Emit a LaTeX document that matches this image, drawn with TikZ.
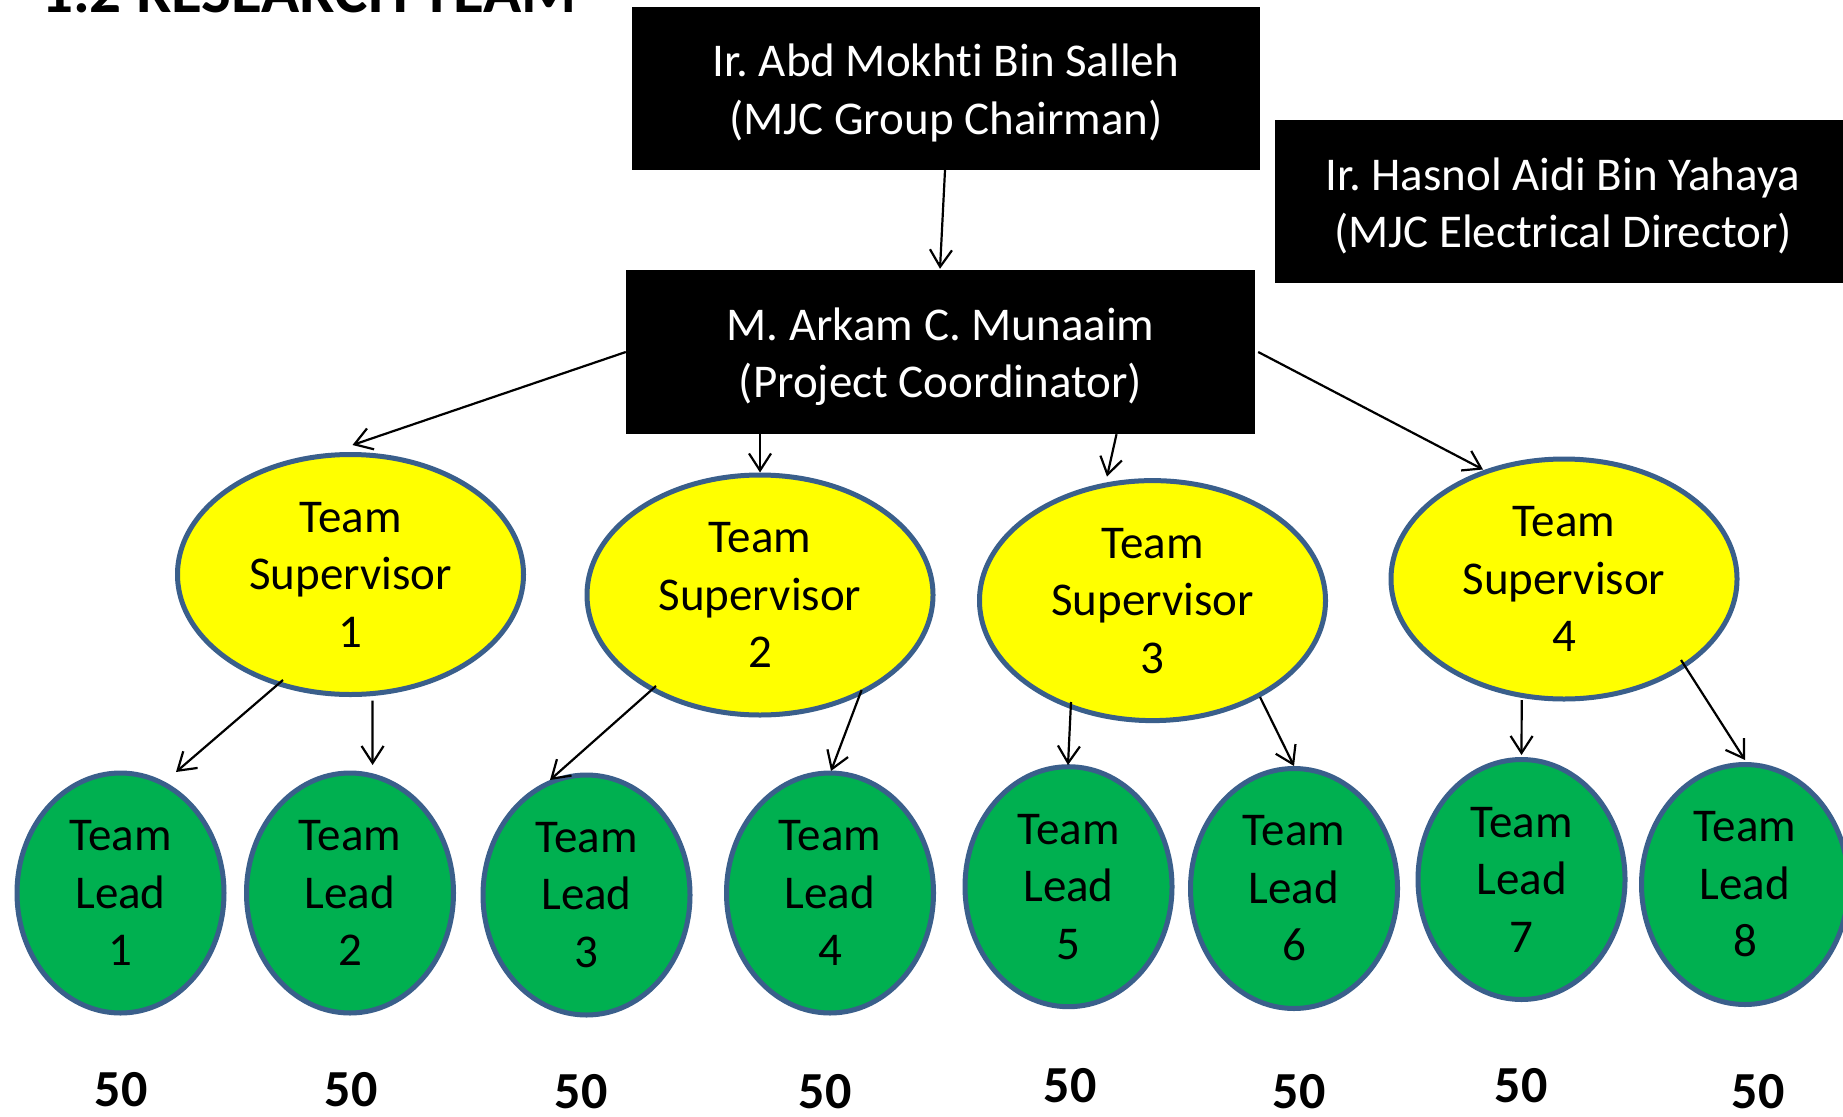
\documentclass[tikz,border=0pt]{standalone}
\usepackage{fontspec}
\setmainfont{Carlito}[Ligatures=NoCommon]
\frenchspacing
\usetikzlibrary{arrows.meta,shapes.geometric,calc}
\definecolor{edgeblue}{HTML}{3A5F8B}
\definecolor{supyellow}{HTML}{FFFF00}
\definecolor{leadgreen}{HTML}{00B050}
\begin{document}
\begin{tikzpicture}[x=1pt,y=-1pt,
  blackbox/.style={rectangle, fill=black, inner sep=0pt},
  boxtxt/.style={text=white, align=center, inner sep=0pt,
    font=\fontsize{47}{57.5}\selectfont},
  sup/.style={ellipse, draw=edgeblue, line width=5pt, fill=supyellow, align=center,
    inner sep=0pt, minimum width=346pt, minimum height=240pt,
    font=\fontsize{47}{57.5}\selectfont},
  lead/.style={ellipse, draw=edgeblue, line width=5pt, fill=leadgreen, align=center,
    inner sep=0pt, minimum width=207pt, minimum height=240pt,
    font=\fontsize{47}{57.5}\selectfont},
  num/.style={inner sep=0pt, font=\fontsize{52}{60}\selectfont\bfseries},
  arr/.style={-{Straight Barb[length=17pt,width=22pt]}, line width=2.2pt}]
\useasboundingbox (0,0) rectangle (1843,1116);
\fill[white] (0,0) rectangle (1843,1116);

% title (cut off at top)
\node[anchor=base west, inner sep=0pt, font=\fontsize{63}{70}\selectfont\bfseries] (title) at (41,13) {1.2 RESEARCH TEAM};

% boxes
\node[blackbox, minimum width=628pt, minimum height=163pt] (chair) at (946,88.5) {};
\node[boxtxt] (chairtxt) at ($(chair.center)+(0,4.5)$) {Ir. Abd Mokhti Bin Salleh\\(MJC Group Chairman)};
\node[blackbox, minimum width=629pt, minimum height=164pt] (coord) at (940.5,352) {};
\node[boxtxt] (coordtxt) at ($(coord.center)+(0,4.5)$) {M. Arkam C. Munaaim\\(Project Coordinator)};
\node[blackbox, minimum width=576pt, minimum height=163pt] (dir) at (1563,201.5) {};
\node[boxtxt] (dirtxt) at ($(dir.center)+(0,4.5)$) {Ir. Hasnol Aidi Bin Yahaya\\(MJC Electrical Director)};

% supervisors
\node[sup] (S1) at (350.5,574.5) {Team\\Supervisor\\1};
\node[sup] (S2) at (760,595) {Team\\Supervisor\\2};
\node[sup] (S3) at (1152.5,600.6) {Team\\Supervisor\\3};
\node[sup] (S4) at (1564,579) {Team\\Supervisor\\4};

% leads
\node[lead] (L1) at (120.5,893) {Team\\Lead\\1};
\node[lead] (L2) at (350,893) {Team\\Lead\\2};
\node[lead] (L3) at (586.5,895) {Team\\Lead\\3};
\node[lead] (L4) at (830,893) {Team\\Lead\\4};
\node[lead] (L5) at (1068.5,886.7) {Team\\Lead\\5};
\node[lead] (L6) at (1294,888.5) {Team\\Lead\\6};
\node[lead] (L7) at (1521.5,879.5) {Team\\Lead\\7};
\node[lead] (L8) at (1745,884.5) {Team\\Lead\\8};

% numbers
\node[num] (n1) at (121,1090) {50};
\node[num] (n2) at (351,1090) {50};
\node[num] (n3) at (581,1092) {50};
\node[num] (n4) at (825,1092) {50};
\node[num] (n5) at (1070,1086) {50};
\node[num] (n6) at (1299,1092) {50};
\node[num] (n7) at (1521,1086) {50};
\node[num] (n8) at (1758,1092) {50};

% arrows from boxes
\draw[arr] ($(chair.south)+(-1,0)$) -- ($(coord.north)+(-0.5,-1)$);
\draw[arr] (coord.west) -- ($(S1.north)+(2,-7)$);
\draw[arr] (coord.south -| S2.north) -- (S2.north);
\draw[arr] ($(coord.south)+(176,0)$) -- ($(S3.north)+(-45.5,-1.5)$);
\draw[arr] ($(coord.east)+(3,0)$) -- ($(S4.north)+(-81,13)$);

% arrows from supervisors to leads
\draw[arr] ($(S1)+(-67.5,105.5)$) -- ($(L1)+(55.5,-121)$);
\draw[arr] ($(S1)+(22,126)$) -- ($(L2)+(22.6,-128)$);
\draw[arr] ($(S2)+(-104,91)$) -- ($(L3)+(-36.5,-115)$);
\draw[arr] ($(S2)+(101.6,95)$) -- ($(L4)+(1,-122)$);
\draw[arr] ($(S3)+(-81.5,101.4)$) -- ($(L5)+(-0.5,-121.7)$);
\draw[arr] ($(S3)+(107.5,96.4)$) -- ($(L6)+(0,-122.5)$);
\draw[arr] ($(S4)+(-42.3,121)$) -- ($(L7)+(0,-124.5)$);
\draw[arr] ($(S4)+(117,81)$) -- ($(L8)+(0,-124.5)$);
\end{tikzpicture}
\end{document}
